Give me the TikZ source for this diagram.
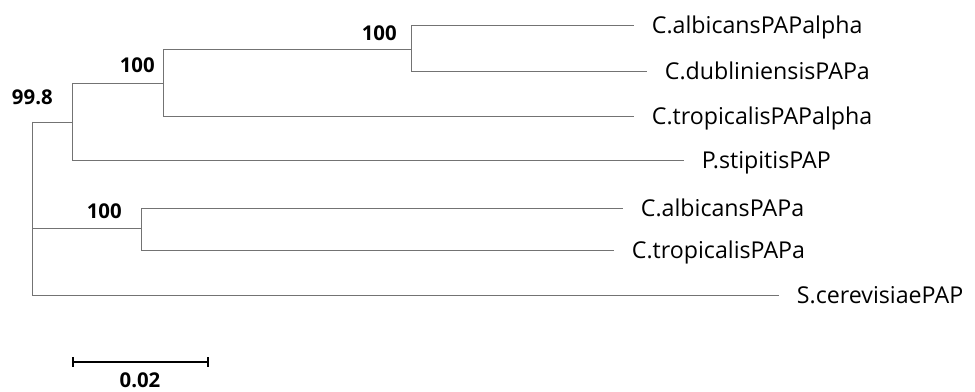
\documentclass[tikz,border=0pt]{standalone}
\usepackage{fontspec}
\setmainfont{Open Sans}
\usetikzlibrary{arrows.meta}
\begin{document}
\begin{tikzpicture}[
        x=0.025cm, y=-0.025cm,
        branch/.style={draw=black!55, line width=0.7pt},
        leaf/.style={anchor=west, inner xsep=12.5pt, inner ysep=0pt,
            text height=11.8pt, text depth=0pt, font=\fontsize{16.5}{18}\selectfont},
        boot/.style={anchor=south east, inner sep=0pt, font=\bfseries\fontsize{14.5}{16}\selectfont},
        scalebar/.style={line width=1.4pt, {Bar[width=7pt]}-{Bar[width=7pt]}}
    ]
        \useasboundingbox (0,0) rectangle (975,392);

        % Inner nodes of the tree
        \coordinate (root) at (32,122);
        \coordinate (A) at (72,122);
        \coordinate (B) at (163,83);
        \coordinate (C) at (411,49);
        \coordinate (D) at (141,228);

        % Leaves
        \node[leaf] (calbA) at (634,25) {C.albicansPAPalpha};
        \node[leaf] (cdub) at (647,71) {C.dubliniensisPAPa};
        \node[leaf] (ctropA) at (634,116) {C.tropicalisPAPalpha};
        \node[leaf] (pstip) at (684,160) {P.stipitisPAP};
        \node[leaf] (calba) at (623,208) {C.albicansPAPa};
        \node[leaf] (ctropa) at (614,250) {C.tropicalisPAPa};
        \node[leaf] (scer) at (779,295) {S.cerevisiaePAP};

        % Branches
        \draw[branch] (root) -- (A);
        \draw[branch] (root) |- (D);
        \draw[branch] (root) |- (scer.west);
        \draw[branch] (A) |- (B);
        \draw[branch] (A) |- (pstip.west);
        \draw[branch] (B) |- (C);
        \draw[branch] (B) |- (ctropA.west);
        \draw[branch] (C) |- (calbA.west);
        \draw[branch] (C) |- (cdub.west);
        \draw[branch] (D) |- (calba.west);
        \draw[branch] (D) |- (ctropa.west);

        % Bootstrap values
        \node[boot] (bootA) at (53,105) {99.8};
        \node[boot] (bootB) at (155,73) {100};
        \node[boot] (bootC) at (397,41) {100};
        \node[boot] (bootD) at (122,219) {100};

        % Scale bar
        \coordinate (sbl) at (72,362);
        \coordinate (sbr) at (209,362);
        \draw[scalebar] (sbl) -- (sbr);
        \node[font=\bfseries\fontsize{14.5}{16}\selectfont, inner sep=0pt] (sblabel) at (140,380) {0.02};
    \end{tikzpicture}
\end{document}
